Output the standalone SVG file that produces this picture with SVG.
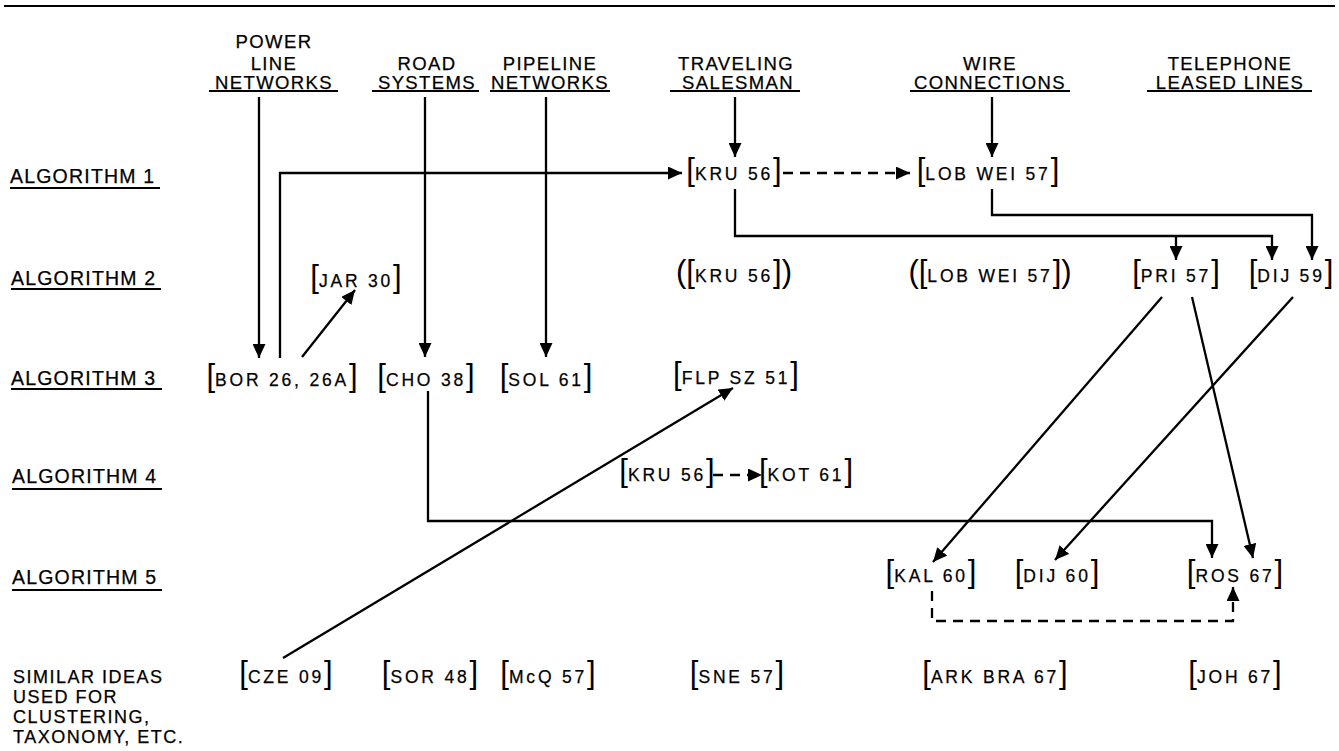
<svg xmlns="http://www.w3.org/2000/svg" width="1339" height="751" viewBox="0 0 1339 751">
<style>
text{font-family:"Liberation Sans",Arial,sans-serif;fill:#000;stroke:#000;stroke-width:0.25px}
.h{font-size:18.5px;letter-spacing:1.4px;text-anchor:middle}
.r{font-size:19.5px;letter-spacing:1.2px}
.s{font-size:18px;letter-spacing:1.5px}
.n{font-size:17.5px;letter-spacing:2.8px;text-anchor:middle}
.b{font-size:31px;letter-spacing:0px;stroke-width:0px}
.ul{stroke:#000;stroke-width:1.8;fill:none}
.c{stroke:#000;stroke-width:2.3;fill:none}
.d{stroke:#000;stroke-width:2.3;fill:none;stroke-dasharray:10 7}
</style>
<defs>
<marker id="a" markerUnits="userSpaceOnUse" markerWidth="14" markerHeight="13" refX="14" refY="6.5" orient="auto">
<path d="M0,0 L14,6.5 L0,13 z" fill="#000"/>
</marker>
</defs>
<rect width="1339" height="751" fill="#fff"/>
<line x1="4" y1="6" x2="1335" y2="6" class="ul"/>

<g id="headers">
<g id="h-power"><text class="h" x="274" y="48">POWER</text><text class="h" x="274" y="70">LINE</text><text class="h" x="274" y="89">NETWORKS</text><line class="ul" x1="209" y1="91" x2="338" y2="91"/></g>
<g id="h-road"><text class="h" x="427" y="70">ROAD</text><text class="h" x="427" y="89">SYSTEMS</text><line class="ul" x1="372" y1="91" x2="479" y2="91"/></g>
<g id="h-pipe"><text class="h" x="550" y="70">PIPELINE</text><text class="h" x="550" y="89">NETWORKS</text><line class="ul" x1="490" y1="91" x2="610" y2="91"/></g>
<g id="h-tsp"><text class="h" x="736" y="70">TRAVELING</text><text class="h" x="738" y="89">SALESMAN</text><line class="ul" x1="670" y1="91" x2="800" y2="91"/></g>
<g id="h-wire"><text class="h" x="990" y="70">WIRE</text><text class="h" x="990" y="89">CONNECTIONS</text><line class="ul" x1="910" y1="91" x2="1070" y2="91"/></g>
<g id="h-tel"><text class="h" x="1230" y="70">TELEPHONE</text><text class="h" x="1230" y="89">LEASED LINES</text><line class="ul" x1="1147" y1="91" x2="1312" y2="91"/></g>
</g>

<g id="rows">
<g id="r1"><text class="r" x="10" y="183">ALGORITHM 1</text><line class="ul" x1="10" y1="188" x2="160" y2="188"/></g>
<g id="r2"><text class="r" x="11" y="285">ALGORITHM 2</text><line class="ul" x1="11" y1="289" x2="161" y2="289"/></g>
<g id="r3"><text class="r" x="11" y="385">ALGORITHM 3</text><line class="ul" x1="11" y1="389" x2="162" y2="389"/></g>
<g id="r4"><text class="r" x="12" y="483">ALGORITHM 4</text><line class="ul" x1="12" y1="489" x2="162" y2="489"/></g>
<g id="r5"><text class="r" x="12" y="584">ALGORITHM 5</text><line class="ul" x1="12" y1="590" x2="162" y2="590"/></g>
<g id="r6"><text class="s" x="13" y="683">SIMILAR IDEAS</text><text class="s" x="13" y="703">USED FOR</text><text class="s" x="13" y="723">CLUSTERING,</text><text class="s" x="13" y="743">TAXONOMY, ETC.</text></g>
</g>

<g id="connectors">
<path class="c" d="M259,97 V358" marker-end="url(#a)"/>
<path class="c" d="M280,358 V173 H682" marker-end="url(#a)"/>
<path class="c" d="M302,357 L355,290" marker-end="url(#a)"/>
<path class="c" d="M425,97 V357" marker-end="url(#a)"/>
<path class="c" d="M546,97 V357" marker-end="url(#a)"/>
<path class="c" d="M735,97 V157" marker-end="url(#a)"/>
<path class="c" d="M992,97 V157" marker-end="url(#a)"/>
<path class="d" d="M783,173 H910" marker-end="url(#a)"/>
<path class="c" d="M735,189 V236 H1272 V260" marker-end="url(#a)"/>
<path class="c" d="M1176,236 V260" marker-end="url(#a)"/>
<path class="c" d="M992,189 V215 H1312 V260" marker-end="url(#a)"/>
<path class="c" d="M1162,297 L933,562" marker-end="url(#a)"/>
<path class="c" d="M1192,297 L1253,558" marker-end="url(#a)"/>
<path class="c" d="M1293,297 L1055,560" marker-end="url(#a)"/>
<path class="c" d="M428,391 V521 H1212 V558" marker-end="url(#a)"/>
<path class="c" d="M283,658 L733,388" marker-end="url(#a)"/>
<path class="d" d="M932,591 V621 H1233 V587" marker-end="url(#a)"/>
<path class="d" d="M713,475 H762" marker-end="url(#a)"/>
</g>

<g id="n-kru56a"><text class="n" x="734" y="180"><tspan class="b">[</tspan>KRU 56<tspan class="b">]</tspan></text></g>
<g id="n-lobwei57a"><text class="n" x="988" y="180"><tspan class="b">[</tspan>LOB WEI 57<tspan class="b">]</tspan></text></g>
<g id="n-jar30"><text class="n" x="356" y="287"><tspan class="b">[</tspan>JAR 30<tspan class="b">]</tspan></text></g>
<g id="n-kru56b"><text class="n" x="734" y="282"><tspan class="b">([</tspan>KRU 56<tspan class="b">])</tspan></text></g>
<g id="n-lobwei57b"><text class="n" x="990" y="282"><tspan class="b">([</tspan>LOB WEI 57<tspan class="b">])</tspan></text></g>
<g id="n-pri57"><text class="n" x="1176" y="282"><tspan class="b">[</tspan>PRI 57<tspan class="b">]</tspan></text></g>
<g id="n-dij59"><text class="n" x="1291" y="282"><tspan class="b">[</tspan>DIJ 59<tspan class="b">]</tspan></text></g>
<g id="n-bor26"><text class="n" x="282" y="386"><tspan class="b">[</tspan>BOR 26, 26A<tspan class="b">]</tspan></text></g>
<g id="n-cho38"><text class="n" x="426" y="386"><tspan class="b">[</tspan>CHO 38<tspan class="b">]</tspan></text></g>
<g id="n-sol61"><text class="n" x="546" y="386"><tspan class="b">[</tspan>SOL 61<tspan class="b">]</tspan></text></g>
<g id="n-flpsz51"><text class="n" x="736" y="384"><tspan class="b">[</tspan>FLP SZ 51<tspan class="b">]</tspan></text></g>
<g id="n-kru56c"><text class="n" x="667" y="481"><tspan class="b">[</tspan>KRU 56<tspan class="b">]</tspan></text></g>
<g id="n-kot61"><text class="n" x="806" y="481"><tspan class="b">[</tspan>KOT 61<tspan class="b">]</tspan></text></g>
<g id="n-kal60"><text class="n" x="931" y="582"><tspan class="b">[</tspan>KAL 60<tspan class="b">]</tspan></text></g>
<g id="n-dij60"><text class="n" x="1057" y="582"><tspan class="b">[</tspan>DIJ 60<tspan class="b">]</tspan></text></g>
<g id="n-ros67"><text class="n" x="1235" y="582"><tspan class="b">[</tspan>ROS 67<tspan class="b">]</tspan></text></g>
<g id="n-cze09"><text class="n" x="286" y="683"><tspan class="b">[</tspan>CZE 09<tspan class="b">]</tspan></text></g>
<g id="n-sor48"><text class="n" x="430" y="683"><tspan class="b">[</tspan>SOR 48<tspan class="b">]</tspan></text></g>
<g id="n-mcq57"><text class="n" x="548" y="683"><tspan class="b">[</tspan>McQ 57<tspan class="b">]</tspan></text></g>
<g id="n-sne57"><text class="n" x="737" y="683"><tspan class="b">[</tspan>SNE 57<tspan class="b">]</tspan></text></g>
<g id="n-arkbra67"><text class="n" x="995" y="683"><tspan class="b">[</tspan>ARK BRA 67<tspan class="b">]</tspan></text></g>
<g id="n-joh67"><text class="n" x="1235" y="683"><tspan class="b">[</tspan>JOH 67<tspan class="b">]</tspan></text></g>
</svg>
